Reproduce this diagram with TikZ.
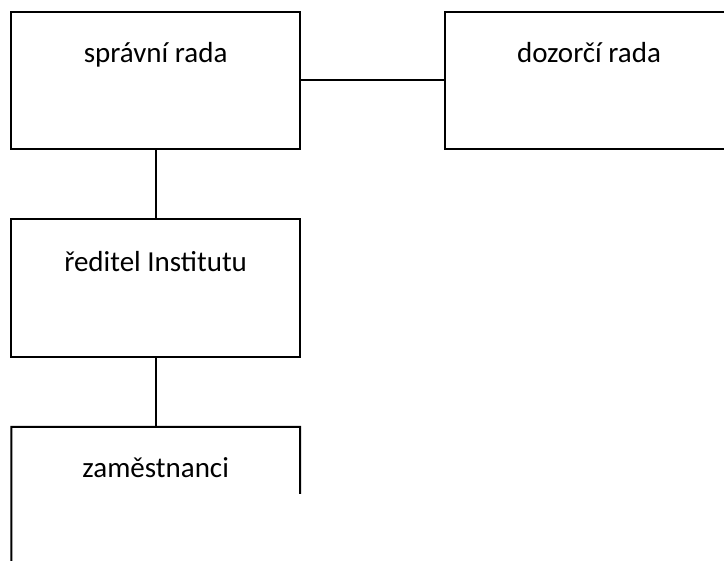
\documentclass[tikz,border=0pt]{standalone}
\usepackage{fontspec}
\setmainfont{Carlito}
\begin{document}
\begin{tikzpicture}[x=1pt,y=-1pt,
  box/.style={draw=black,line width=2pt,minimum width=288.7pt,minimum height=137pt,inner sep=0pt,outer sep=0pt},
  openbox/.style={draw=none,minimum width=288.7pt,minimum height=140pt,inner sep=0pt,outer sep=0pt},
  lbl/.style={font=\fontsize{29}{35}\selectfont,text=black,anchor=base,inner sep=0pt},
  conn/.style={line width=2pt}]
\useasboundingbox (0,0) rectangle (724,561);
\begin{scope}
\clip (0,0) rectangle (724,561);
\node[box] (a) at (155.65,80.5) {};
\node[box] (b) at (589,80.5) {};
\node[box,minimum height=138.5pt] (c) at (155.65,288.25) {};
\node[openbox,anchor=north] (d) at (155.65,427) {};
\node[lbl] (ta) at ([yshift=-51pt]a.north) {správní rada};
\node[lbl] (tb) at ([yshift=-51pt]b.north) {dozorčí rada};
\node[lbl] (tc) at ([yshift=-53pt]c.north) {ředitel Institutu};
\node[lbl] (td) at ([yshift=-51pt]d.north) {zaměstnanci};
\coordinate (dl) at (11.3,562);
\coordinate (dr) at (300,494);
\draw[conn,line join=miter] (dl) -- (d.north west) -- (d.north east) -- (dr);
\draw[conn] (a.east) -- (b.west);
\draw[conn] (a.south) -- (c.north);
\draw[conn] (c.south) -- (d.north);
\end{scope}
\end{tikzpicture}
\end{document}
